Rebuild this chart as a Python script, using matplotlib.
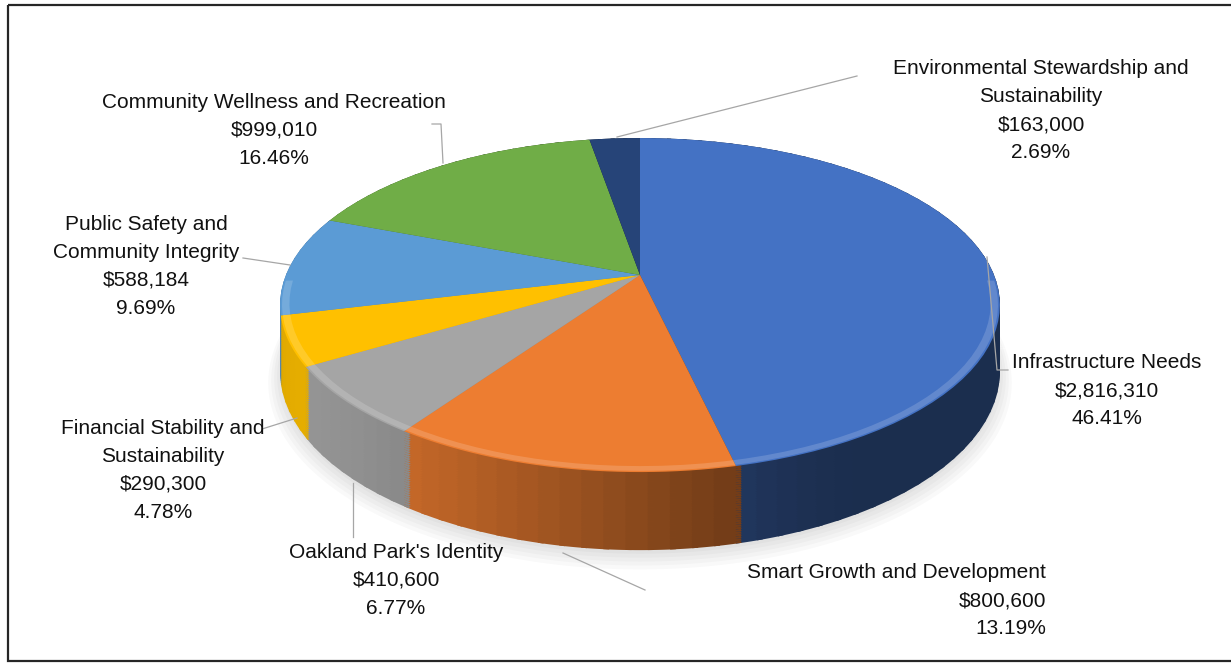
import numpy as np
import matplotlib
matplotlib.use('Agg')
import matplotlib.pyplot as plt
import matplotlib.transforms as mtransforms
from matplotlib.patches import Wedge, Rectangle
from matplotlib.collections import PatchCollection
from matplotlib.path import Path
from matplotlib.colors import to_rgb
from matplotlib import font_manager

# data
categories = ['Infrastructure Needs', 'Smart Growth and Development', "Oakland Park's Identity",
              'Financial Stability and\nSustainability', 'Public Safety and\nCommunity Integrity',
              'Community Wellness and Recreation', 'Environmental Stewardship and\nSustainability']
amounts = [2816310, 800600, 410600, 290300, 588184, 999010, 163000]
colors = ['#4472C4', '#ED7D31', '#A5A5A5', '#FFC000', '#5B9BD5', '#70AD47', '#264478']

# label layout (pixel positions in the picture)
label_xy = [(1107, 391), (1046, 601), (396, 580), (163, 470), (146, 266), (274, 130), (1041, 111)]
label_ha = ['center', 'right', 'center', 'center', 'center', 'center', 'center']
leaders = [[(987, 257), (997, 370), (1008, 370)],
           [(563, 553), (645, 590)],
           [(353, 483), (353, 537)],
           [(262, 429), (297, 418)],
           [(243, 258), (290, 265)],
           [(432, 124), (441, 124), (443, 163)],
           [(857, 76), (617, 137)]]

# projection of the unit disc onto the picture (simple perspective)
CX, CY = 640, 275
SX, SY, K = 354, 161.6, 0.18
DEPTH = 64


class Persp(mtransforms.Transform):
    input_dims = 2
    output_dims = 2
    is_separable = False
    has_inverse = False

    def __init__(self, z=0.0):
        super().__init__()
        self.z = z

    def transform_non_affine(self, xy):
        xy = np.asarray(xy, dtype=float)
        x, y = xy[:, 0], xy[:, 1]
        w = 1 + K * y
        return np.column_stack([CX + SX * x / w, CY - (SY * y - self.z) / w])

    def transform_path_non_affine(self, path):
        # sample the curves finely before bending them
        pts = []
        for seg, code in path.iter_bezier():
            t = np.linspace(0, 1, 16 if seg.degree > 1 else 2)
            pts.append(seg(t))
        return Path(self.transform_non_affine(np.concatenate(pts)))


available = {f.name for f in font_manager.fontManager.ttflist}
if 'Liberation Sans Narrow' in available:
    fam, fs, lsp = 'Liberation Sans Narrow', 18, 1.1
else:
    fam, fs, lsp = 'Liberation Sans', 15, 1.6

fig = plt.figure(figsize=(12.31, 6.63), dpi=100)
ax = fig.add_axes([0, 0, 1, 1])

wedges, _ = ax.pie(amounts, colors=colors, startangle=90, counterclock=False,
                   wedgeprops=dict(linewidth=0))
ax.set_aspect('auto')
ax.set_xlim(0, 1231)
ax.set_ylim(663, 0)
ax.axis('off')

for w in wedges:
    w.set_transform(Persp(0) + ax.transData)
    w.set_zorder(3)

# soft shadow under the pie
for i in range(5):
    sh = Wedge((0, 0), 1.0 + 0.008 * i, 0, 359.9, color='black', alpha=0.025, lw=0)
    sh.set_transform(Persp(DEPTH + 3 + 1.5 * i) + ax.transData)
    sh.set_zorder(1)
    ax.add_patch(sh)

# side of the pie: stacked layers, shaded by angle
pieces, piece_cols = [], []
for w, c in zip(wedges, colors):
    t1, t2 = w.theta1, w.theta2
    n = max(1, int(np.ceil((t2 - t1) / 3)))
    edges = np.linspace(t1, t2, n + 1)
    for a, b in zip(edges[:-1], edges[1:]):
        mid = np.radians((a + b) / 2 + 150)
        f = 0.4 + 0.5 * max(0.0, np.cos(mid)) ** 1.5
        pieces.append((a, b + 0.8))
        piece_cols.append(tuple(np.array(to_rgb(c)) * f))

n_layers = 34
for z in np.linspace(DEPTH, 0, n_layers):
    coll = PatchCollection([Wedge((0, 0), 1, a, b) for a, b in pieces],
                           facecolors=piece_cols, edgecolors='none', linewidths=0)
    coll.set_transform(Persp(z) + ax.transData)
    coll.set_zorder(2)
    ax.add_collection(coll)

# light bevel along the front rim
bevel = Wedge((0, 0), 0.995, 182, 358, width=0.02, color='white', alpha=0.16, lw=0)
bevel.set_transform(Persp(0) + ax.transData)
bevel.set_zorder(4)
ax.add_patch(bevel)

# labels and leader lines
total = sum(amounts)
for cat, v, (x, y), ha, pts in zip(categories, amounts, label_xy, label_ha, leaders):
    txt = '{}\n${:,}\n{:.2%}'.format(cat, v, v / total)
    ax.text(x, y, txt, ha=ha, va='center', multialignment=ha, fontsize=fs,
            family=fam, color='#111111', linespacing=lsp, zorder=6)
    px, py = zip(*pts)
    ax.plot(px, py, color='#A6A6A6', lw=0.9, zorder=5)

# outer frame
ax.add_patch(Rectangle((8, 5), 1240, 656, fill=False, edgecolor='#262626', lw=1.6, zorder=7))

fig.savefig('out.png', dpi=100)
